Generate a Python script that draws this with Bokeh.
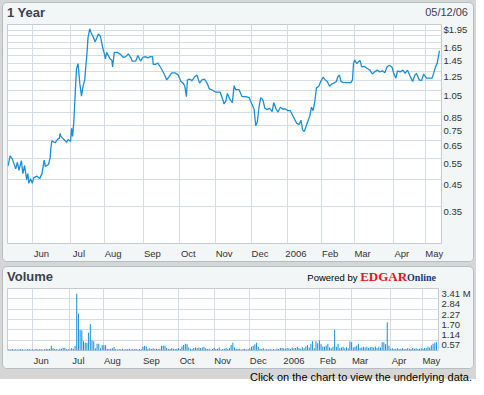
import math
from bokeh.plotting import figure
from bokeh.models import Range1d, FixedTicker, LinearAxis, LogAxis, Div
from bokeh.layouts import column
from bokeh.embed import file_html
from bokeh.resources import INLINE

# ---------------- data ----------------
month_labels = ["Jun", "Jul", "Aug", "Sep", "Oct", "Nov", "Dec", "2006", "Feb", "Mar", "Apr", "May"]
month_idx = [0, 22, 42, 65, 86, 107, 128, 149, 169, 188, 211, 230]   # trading-day index of month start

price_idx = [-14.4, -13.3, -11.9, -10.0, -9.0, -8.1, -6.7, -5.8, -4.8, -3.6, -2.9, -2.3, -1.3, -0.3,
             0.6, 2.5, 4.0, 5.4, 6.0, 6.7, 7.3, 9.2, 10.2, 10.6, 11.2, 13.1, 14.4, 15.6, 16.0, 16.5,
             17.9, 19.8, 20.7, 22.1, 22.7, 23.3, 24.0, 25.0, 25.6, 26.5, 27.5, 28.5, 29.4, 30.4,
             31.0, 31.7, 32.3, 33.3, 34.2, 35.2, 36.5, 37.5, 38.4, 39.6, 40.9, 41.9, 42.5, 43.2,
             44.2, 45.2, 46.3, 46.7, 47.7, 49.6, 51.5, 52.9, 54.4, 55.9, 57.3, 58.2, 60.2, 61.5,
             63.1, 64.4, 65.9, 67.3, 68.8, 70.1, 70.5, 71.7, 73.2, 74.0, 75.5, 76.9, 78.4, 79.8,
             81.3, 83.2, 85.1, 86.7, 88.0, 89.0, 89.9, 90.5, 91.9, 93.2, 94.8, 96.1, 97.6, 99.0,
             100.5, 102.0, 103.4, 105.3, 107.2, 109.7, 111.1, 112.0, 113.0, 113.9, 115.3, 116.8,
             117.8, 118.7, 120.7, 120.9, 122.4, 124.7, 126.6, 128.2, 129.5, 130.5, 131.4, 132.4,
             133.4, 134.7, 135.8, 137.2, 138.6, 140.1, 141.0, 142.4, 143.5, 144.9, 146.2, 147.8,
             149.3, 150.7, 151.6, 153.1, 154.5, 155.9, 157.0, 157.9, 158.9, 160.2, 161.2, 162.2,
             163.1, 164.1, 165.1, 166.0, 167.4, 168.5, 169.9, 171.2, 172.3, 173.7, 175.0, 176.6,
             177.7, 178.5, 179.5, 180.4, 181.9, 184.3, 186.2, 187.1, 187.7, 188.4, 189.6, 190.4,
             191.5, 192.5, 193.9, 195.8, 197.3, 198.7, 200.0, 201.6, 203.1, 204.6, 206.0, 207.3,
             208.6, 210.2, 211.2, 212.5, 213.5, 215.0, 216.6, 217.9, 219.3, 220.8, 222.3, 223.7,
             224.6, 226.2, 227.5, 228.8, 230.4, 232.3, 233.7, 234.6, 235.7, 236.7, 237.3, 238.0]

price = [0.515, 0.564, 0.547, 0.499, 0.531, 0.492, 0.539, 0.477, 0.515, 0.451, 0.477, 0.435, 0.455, 0.435,
         0.459, 0.466, 0.455, 0.477, 0.507, 0.542, 0.511, 0.520, 0.556, 0.609, 0.651, 0.638, 0.658, 0.667, 0.698, 0.678,
         0.661, 0.642, 0.658, 0.647, 0.731, 0.678, 0.777, 1.072, 1.287, 1.347, 1.121, 0.992, 1.088, 1.156,
         1.306, 1.477, 1.719, 1.873, 1.799, 1.745, 1.657, 1.719, 1.783, 1.745, 1.568, 1.477, 1.411, 1.498,
         1.454, 1.411, 1.389, 1.306, 1.498, 1.498, 1.467, 1.431, 1.440, 1.477, 1.431, 1.379, 1.379, 1.454,
         1.379, 1.431, 1.440, 1.423, 1.440, 1.440, 1.338, 1.338, 1.354, 1.327, 1.275, 1.222, 1.156, 1.191,
         1.235, 1.235, 1.210, 1.138, 1.121, 1.088, 0.987, 1.156, 1.163, 1.148, 1.191, 1.210, 1.121, 1.156,
         1.163, 1.121, 1.061, 1.048, 1.029, 1.029, 0.963, 0.920, 0.948, 1.017, 0.963, 0.933,
         1.094, 1.055, 1.055, 1.046, 0.987, 0.987, 0.977, 0.920, 0.878, 0.750, 0.777, 0.893,
         0.977, 0.957, 0.884, 0.873, 0.884, 0.857, 0.933, 0.878, 0.853, 0.893, 0.878, 0.878,
         0.865, 0.865, 0.839, 0.801, 0.766, 0.758, 0.789, 0.721, 0.710, 0.754, 0.789, 0.826,
         0.893, 0.865, 0.948, 1.072, 1.088, 1.138, 1.185, 1.156, 1.138, 1.088, 1.112, 1.127,
         1.138, 1.191, 1.210, 1.138, 1.127, 1.127, 1.127, 1.156, 1.347, 1.397, 1.347, 1.367,
         1.389, 1.306, 1.314, 1.287, 1.267, 1.222, 1.247, 1.267, 1.247, 1.259, 1.235, 1.306,
         1.327, 1.306, 1.229, 1.175, 1.259, 1.247, 1.267, 1.229, 1.267, 1.199, 1.138, 1.210,
         1.229, 1.156, 1.148, 1.222, 1.175, 1.175, 1.175, 1.229, 1.306, 1.354, 1.431, 1.522]

price_grid = [1.95, 1.85, 1.75, 1.65, 1.55, 1.45, 1.35, 1.25, 1.15, 1.05, 0.95, 0.85, 0.75, 0.65, 0.55, 0.45, 0.35]
price_label_vals = [1.95, 1.65, 1.45, 1.25, 1.05, 0.85, 0.75, 0.65, 0.55, 0.45, 0.35]
price_label_text = ["$1.95", "1.65", "1.45", "1.25", "1.05", "0.85", "0.75", "0.65", "0.55", "0.45", "0.35"]

vol_first_idx = -14
volume = [0.07, 0.06, 0.08, 0.06, 0.07, 0.06, 0.06, 0.08, 0.07, 0.06, 0.06, 0.07, 0.08, 0.06,
          0.07, 0.06, 0.09, 0.06, 0.07, 0.08, 0.06, 0.07, 0.09, 0.08,
          0.10, 0.26, 0.12, 0.08, 0.07, 0.06, 0.10, 0.09, 0.14, 0.15,
          0.07, 0.08, 0.07, 0.12, 0.10, 0.25, 3.12, 2.03, 1.14, 1.12,
          0.51, 0.43, 0.43, 0.98, 1.46, 0.56, 0.51, 0.13, 0.37, 0.37,
          0.13, 0.29, 0.29, 0.29, 0.10, 0.08, 0.10, 0.12, 0.19, 0.08,
          0.06, 0.08, 0.07, 0.10, 0.06, 0.08, 0.07, 0.09, 0.06, 0.08,
          0.07, 0.10, 0.06, 0.08, 0.07, 0.20, 0.26, 0.22, 0.10, 0.12,
          0.08, 0.12, 0.08, 0.10, 0.08, 0.10, 0.26, 0.26, 0.26, 0.14,
          0.10, 0.08, 0.12, 0.10, 0.08, 0.10, 0.12, 0.08, 0.22, 0.30,
          0.37, 0.34, 0.16, 0.10, 0.08, 0.14, 0.16, 0.12, 0.16, 0.14,
          0.16, 0.20, 0.12, 0.08, 0.10, 0.06, 0.08, 0.14, 0.08, 0.10,
          0.16, 0.06, 0.08, 0.10, 0.14, 0.08, 0.12, 0.30, 0.43, 0.16,
          0.10, 0.08, 0.10, 0.06, 0.08, 0.10, 0.06, 0.08, 0.12, 0.20,
          0.26, 0.34, 0.43, 0.20, 0.10, 0.08, 0.12, 0.06, 0.08, 0.06,
          0.10, 0.06, 0.08, 0.06, 0.10, 0.08, 0.14, 0.14, 0.12, 0.10,
          0.14, 0.12, 0.08, 0.16, 0.12, 0.14, 0.20, 0.14, 0.10, 0.18,
          0.12, 0.22, 0.29, 0.16, 0.37, 0.51, 0.12, 0.51, 0.40, 0.56,
          0.37, 0.22, 0.20, 0.26, 0.37, 0.16, 0.12, 0.20, 1.14, 0.20,
          0.37, 0.12, 0.16, 0.20, 0.12, 0.18, 0.12, 0.51, 0.46, 0.16,
          0.20, 0.26, 0.37, 0.14, 0.16, 0.20, 0.16, 0.20, 0.14, 0.18,
          0.20, 0.16, 0.22, 0.14, 0.20, 0.16, 0.46, 0.46, 0.34, 1.56,
          0.26, 0.10, 0.12, 0.08, 0.10, 0.12, 0.08, 0.10, 0.12, 0.08,
          0.10, 0.12, 0.10, 0.08, 0.14, 0.10, 0.12, 0.08, 0.10, 0.12,
          0.10, 0.14, 0.12, 0.20, 0.16, 0.29, 0.37, 0.43, 0.45]
vol_idx = list(range(vol_first_idx, vol_first_idx + len(volume)))

vol_grid = [0.57, 1.14, 1.70, 2.27, 2.84, 3.41]
vol_label_text = ["0.57", "1.14", "1.70", "2.27", "2.84", "3.41 M"]

# ---------------- style / geometry ----------------
BG = "#d6d6d6"
PANEL = "#f2f6f6"
GRID = "#d5dde4"
LINE = "#1a8ed6"
TXT = "#333333"
HEAD = "#3a424c"
FONT = "Liberation Sans"
X0, X1 = -14.8, 239.2
P_LO, P_HI = 0.2466, 1.95
V_LO, V_HI = 0.0, 3.41
P_FRAME_H = 221
V_FRAME_H = 64
BOTTOM = 16
LABEL_DROP = 5          # y-labels sit this many px below their grid line
MONTH_SHIFT = 5         # month labels sit ~this many trading days right of the month line

panel_css = {"border": "1px solid #b3bec8", "border-radius": "5px", "box-sizing": "border-box",
             "overflow": "hidden", "background-color": PANEL}


def style_axis(a):
    a.axis_line_color = None
    a.major_tick_line_color = None
    a.minor_tick_line_color = None
    a.major_tick_in = 0
    a.major_tick_out = 0
    a.minor_tick_in = 0
    a.minor_tick_out = 0
    a.major_label_text_font = FONT
    a.major_label_text_font_size = "9.5px"
    a.major_label_text_color = TXT


def base_fig(frame_h, y_range, log=False):
    p = figure(width=470, height=1 + frame_h + BOTTOM, x_range=Range1d(X0, X1), y_range=y_range,
               y_axis_type="log" if log else "linear",
               x_axis_location=None, y_axis_location=None, title=None,
               toolbar_location=None, output_backend="svg",
               min_border_left=4, min_border_right=32, min_border_top=1,
               min_border_bottom=BOTTOM,
               background_fill_color="white", border_fill_color=PANEL,
               outline_line_color="#c3ccd4", margin=0)
    p.xgrid.ticker = FixedTicker(ticks=month_idx)
    p.xgrid.grid_line_color = GRID
    p.ygrid.grid_line_color = GRID
    label_pos = [m + MONTH_SHIFT for m in month_idx]
    xa = LinearAxis(ticker=FixedTicker(ticks=label_pos),
                    major_label_overrides={m: t for m, t in zip(label_pos, month_labels)})
    style_axis(xa)
    xa.major_label_standoff = 4
    p.add_layout(xa, "below")
    return p


def header(left_html, right_html, pad_right):
    html = ('<div style="display:flex;justify-content:space-between;align-items:center;'
            'box-sizing:border-box;width:470px;height:20px;padding:0 %dpx 0 4px;'
            'font-family:\'Liberation Sans\';">%s%s</div>' % (pad_right, left_html, right_html))
    return Div(text=html, width=470, height=20, margin=0)


# ---------------- price panel ----------------
p1 = base_fig(P_FRAME_H, Range1d(P_LO, P_HI), log=True)
p1.ygrid.ticker = FixedTicker(ticks=price_grid)
p1.line(price_idx, price, line_color=LINE, line_width=1.3)

px_per_ln = P_FRAME_H / math.log(P_HI / P_LO)
p_label_pos = [v * math.exp(-LABEL_DROP / px_per_ln) for v in price_label_vals]
ya = LogAxis(ticker=FixedTicker(ticks=p_label_pos),
             major_label_overrides={v: t for v, t in zip(p_label_pos, price_label_text)})
style_axis(ya)
ya.major_label_standoff = 2
ya.major_label_text_align = "right"
p1.add_layout(ya, "right")

h1 = header('<span style="font-weight:bold;font-size:13px;color:%s">1 Year</span>' % HEAD,
            '<span style="font-size:11px;color:%s">05/12/06</span>' % HEAD, 5)
panel1 = column(h1, p1, width=472, height=2 + 20 + 1 + P_FRAME_H + BOTTOM,
                margin=(2, 0, 0, 2), styles=panel_css)

# ---------------- volume panel ----------------
p2 = base_fig(V_FRAME_H, Range1d(V_LO, V_HI))
p2.ygrid.ticker = FixedTicker(ticks=vol_grid)
p2.vbar(x=vol_idx, top=volume, bottom=0, width=0.6, fill_color=LINE, line_color=None)

px_per_m = V_FRAME_H / (V_HI - V_LO)
v_label_pos = [v - LABEL_DROP / px_per_m for v in vol_grid]
va = LinearAxis(ticker=FixedTicker(ticks=v_label_pos),
                major_label_overrides={v: t for v, t in zip(v_label_pos, vol_label_text)})
style_axis(va)
va.major_label_standoff = 3
p2.add_layout(va, "right")

powered = ('<span style="font-size:9.5px;color:#000">Powered by '
           '<span style="font-family:\'Liberation Serif\';font-weight:bold;font-size:13px;color:#e3161e">EDGAR</span>'
           '<span style="font-family:\'Liberation Serif\';font-weight:bold;font-size:10px;color:#173a78">Online</span>'
           '</span>')
h2 = header('<span style="font-weight:bold;font-size:13px;color:%s">Volume</span>' % HEAD, powered, 37)
panel2 = column(h2, p2, width=472, height=2 + 20 + 1 + V_FRAME_H + BOTTOM,
                margin=(4, 0, 0, 2), styles=panel_css)

footer = Div(text='<div style="box-sizing:border-box;width:476px;text-align:right;'
                  'font-family:\'Liberation Sans\';font-size:11px;line-height:11px;color:#000;'
                  'padding-right:4px;">Click on the chart to view the underlying data.</div>',
             width=476, height=10, margin=0)

layout = column(panel1, panel2, footer, width=476, height=379,
                styles={"background-color": BG})

open("out.html", "w").write(file_html(layout, INLINE))
